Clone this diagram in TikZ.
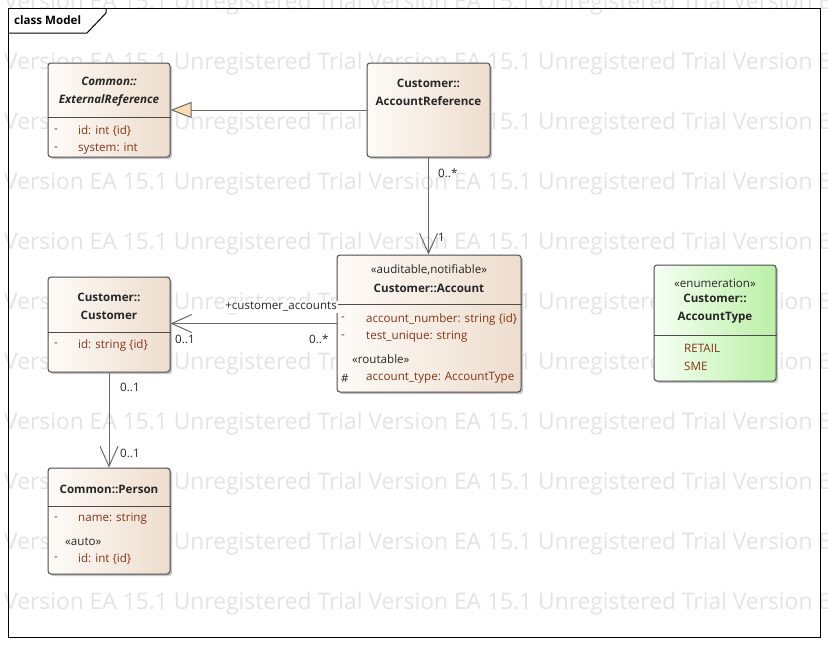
\documentclass[tikz,border=0pt]{standalone}
\usepackage{fontspec}
\setmainfont{Open Sans}
\usepackage{xcolor}
\usetikzlibrary{positioning,arrows.meta}

\definecolor{boxleft}{RGB}{254,251,248}
\definecolor{boxright}{RGB}{237,221,205}
\definecolor{enumleft}{RGB}{246,255,244}
\definecolor{enumright}{RGB}{186,240,166}
\definecolor{attrcol}{RGB}{130,52,22}
\definecolor{linecol}{RGB}{105,105,105}
\definecolor{wmark}{RGB}{229,227,227}
\definecolor{genfill}{RGB}{250,222,178}

\begin{document}
\begin{tikzpicture}[
    x=1pt, y=-1pt,
    classbox/.style={draw=black!70, line width=1pt, rounded corners=3pt, inner sep=0pt,
        left color=boxleft, right color=boxright,
        preaction={fill=black!22, transform canvas={xshift=2pt, yshift=-2pt}}},
    enumbox/.style={classbox, left color=enumleft, right color=enumright},
    title/.style={font=\bfseries\fontsize{11.6}{18}\selectfont, text=black!85, align=center, inner sep=0pt},
    stereo/.style={font=\fontsize{11.6}{18}\selectfont, text=black!85, inner sep=0pt},
    attr/.style={font=\fontsize{11.6}{13}\selectfont, text=attrcol, anchor=west, inner sep=0pt},
    mult/.style={font=\fontsize{11.6}{13}\selectfont, text=black!85, anchor=west, inner sep=1pt},
    sep/.style={draw=black!70, line width=1pt},
    assoc/.style={draw=linecol, line width=1pt, -{Straight Barb[length=20pt, width=18pt]}},
    gen/.style={draw=linecol, line width=1pt, -{Triangle[length=21pt, width=16pt, fill=genfill]}},
    wmtext/.style={font=\fontsize{22.8}{26}\selectfont, text=wmark, anchor=west, inner sep=0pt}
]
    \useasboundingbox[fill=white] (0,0) rectangle (828,645);

    % --- Watermark ---
    \begin{scope}
        \clip (0,0) rectangle (828,645);
        \foreach \wy in {4,64,...,604}
            \node[wmtext] at (4,\wy) {Version EA 15.1 Unregistered Trial Version EA 15.1 Unregistered Trial Version EA 15.1};
    \end{scope}

    % --- Frame ---
    \draw[line width=1pt] (8,8) rectangle (820,637);
    \draw[line width=1pt] (8,33) -- (87,33) -- (106,13) -- (106,8);
    \node[font=\bfseries\fontsize{11.6}{13}\selectfont, anchor=west, inner sep=0pt] (frame_title) at (14,20) {class Model};

    % --- Common::ExternalReference ---
    \node[classbox, minimum width=122, minimum height=94] (extref) at (109,110) {};
    \node[title, font=\bfseries\itshape\fontsize{11.6}{18}\selectfont] (extref_t) at (109,92) {Common::\\ExternalReference};
    \draw[sep] (extref.west |- 0,117) -- (extref.east |- 0,117);
    \node[attr] (extref_d1) at (54,131) {-};
    \node[attr] (extref_a1) at (78,131) {id: int \{id\}};
    \node[attr] (extref_d2) at (54,149) {-};
    \node[attr] (extref_a2) at (78,149) {system: int};

    % --- Customer::AccountReference ---
    \node[classbox, minimum width=123, minimum height=94] (accref) at (428.5,110) {};
    \node[title] (accref_t) at (428.5,92) {Customer::\\AccountReference};

    % --- Customer::Account ---
    \node[classbox, minimum width=184, minimum height=137] (account) at (429,323.5) {};
    \node[stereo] (account_s) at (429,270) {«auditable,notifiable»};
    \node[title] (account_t) at (429,288) {Customer::Account};
    \draw[sep] (account.west |- 0,304) -- (account.east |- 0,304);
    \node[attr] (account_d1) at (341,319) {-};
    \node[attr] (account_a1) at (366,319) {account\_number: string \{id\}};
    \node[attr] (account_d2) at (341,337) {-};
    \node[attr] (account_a2) at (366,337) {test\_unique: string};
    \node[stereo, anchor=west] (account_s2) at (352,359) {«routable»};
    \node[attr, text=black!85] (account_d3) at (341,378) {\#};
    \node[attr] (account_a3) at (366,378) {account\_type: AccountType};

    % --- Customer::Customer ---
    \node[classbox, minimum width=122, minimum height=95] (customer) at (109,324.5) {};
    \node[title] (customer_t) at (109,306) {Customer::\\Customer};
    \draw[sep] (customer.west |- 0,332) -- (customer.east |- 0,332);
    \node[attr] (customer_d1) at (54,345) {-};
    \node[attr] (customer_a1) at (78,345) {id: string \{id\}};

    % --- Common::Person ---
    \node[classbox, minimum width=122, minimum height=106] (person) at (109,521) {};
    \node[title] (person_t) at (109,489) {Common::Person};
    \draw[sep] (person.west |- 0,506) -- (person.east |- 0,506);
    \node[attr] (person_d1) at (54,519) {-};
    \node[attr] (person_a1) at (78,519) {name: string};
    \node[stereo, anchor=west] (person_s) at (65,542) {«auto»};
    \node[attr] (person_d2) at (54,559) {-};
    \node[attr] (person_a2) at (78,559) {id: int \{id\}};

    % --- Customer::AccountType (enumeration) ---
    \node[enumbox, minimum width=122, minimum height=116] (acctype) at (715,323) {};
    \node[stereo] (acctype_s) at (715,283) {«enumeration»};
    \node[title] (acctype_t) at (715,309) {Customer::\\AccountType};
    \draw[sep] (acctype.west |- 0,335) -- (acctype.east |- 0,335);
    \node[attr] (acctype_a1) at (684,348) {RETAIL};
    \node[attr] (acctype_a2) at (684,366) {SME};

    % Paths
    \path[gen] (accref.west) -- (extref.east);
    \path[assoc] (accref.south) -- (accref.south |- account.north);
    \path[assoc] (account.west) -- (account.west -| customer.east);
    \path[assoc] (customer.south) -- (person.north);

    % Multiplicities and role names
    \node[mult] (m_accref) at (437,173) {0..*};
    \node[mult] (m_account) at (437,237) {1};
    \node[mult, anchor=east, fill=white] (r_accounts) at (338,307) {+customer\_accounts};
    \node[mult] (m_cust) at (174,339) {0..1};
    \node[mult] (m_accs) at (308,339) {0..*};
    \node[mult] (m_cust2) at (119,387) {0..1};
    \node[mult] (m_person) at (119,453) {0..1};

\end{tikzpicture}
\end{document}
